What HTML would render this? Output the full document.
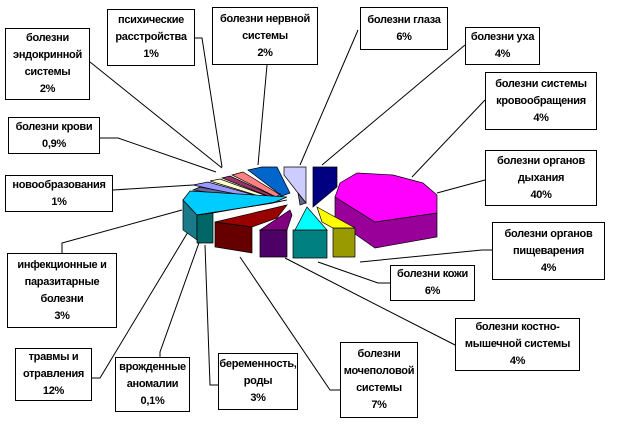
<!DOCTYPE html>
<html><head><meta charset="utf-8"><style>
body{margin:0;background:#fff;width:622px;height:425px;overflow:hidden;position:relative;font-family:"Liberation Sans","DejaVu Sans",sans-serif;}
.b{position:absolute;border:1px solid #000;background:#fff;font-size:11px;font-weight:bold;line-height:17px;text-align:center;box-sizing:border-box;display:flex;align-items:center;justify-content:center;letter-spacing:-0.3px;white-space:nowrap;}
svg{position:absolute;left:0;top:0}
</style></head><body>
<svg width="622" height="425" viewBox="0 0 622 425">
<g stroke="#000" stroke-width="1" fill="none">
<polyline points="90,62 222,168"/>
<polyline points="195,38 202,38 222,167"/>
<polyline points="267,65 258,165"/>
<polyline points="358,30 300,165"/>
<polyline points="465,45 322,165"/>
<polyline points="485,100 412,177"/>
<polyline points="485,180 437,193"/>
<polyline points="492,250 482,250 360,262"/>
<polyline points="390,283 378,283 318,262"/>
<polyline points="455,345 285,258"/>
<polyline points="340,390 330,390 240,257"/>
<polyline points="218,385 210,385 205,245"/>
<polyline points="160,357 160,352 200,240"/>
<polyline points="92,378 100,378 188,232"/>
<polyline points="62,253 62,243 182,210"/>
<polyline points="113,190 193,185"/>
<polyline points="100,138 118,138 216,172"/>
</g>
<g stroke="#000" stroke-width="0.7">
<polygon points="335,197 335,220 375,248 437,237 437,213 375,222" fill="#990099"/>
<polygon points="335,197 340,183 357,173 393,175 423,183 437,195 437,213 375,222" fill="#ff00ff"/>
<polygon points="313,167 337,167 337,187 313,207" fill="#000080"/>
<polygon points="284,167 306,167 306,203 298,193 284,175" fill="#ccccff"/>
<polygon points="298,193 306,203 300,205" fill="#666688"/>
<polygon points="248,170 262,167 277,167 290,193 282,196" fill="#0066cc"/>
<polygon points="232,175 243,172 282,196 278,198" fill="#ff8080"/>
<polygon points="222,178 230,176 278,198 275,199" fill="#993366"/>
<polygon points="210,181 220,179 275,199 272,200" fill="#ffffcc"/>
<polygon points="193,185 208,182 272,200 280,194 280,197 273,203" fill="#9999ff"/>
<polygon points="193,190 200,187 273,201 273,203" fill="#666699"/>
<polygon points="183,200 197,215 197,240 183,230" fill="#1a7a8a"/>
<polygon points="183,200 190,191 287,197 273,203 197,215" fill="#00ccff"/>
<polygon points="197,215 213,213 213,243 197,243" fill="#006666"/>
<polygon points="197,215 273,203 287,200 213,213" fill="#008080"/>
<polygon points="215,222 252,227 252,253 215,247" fill="#660000"/>
<polygon points="215,222 287,205 277,218 252,227" fill="#990000"/>
<polygon points="260,230 287,230 287,257 260,257" fill="#4d0066"/>
<polygon points="260,230 290,210 292,215 287,230" fill="#800080"/>
<polygon points="293,230 327,230 327,258 293,258" fill="#008080"/>
<polygon points="295,230 307,207 327,230" fill="#00ffff"/>
<polygon points="333,228 355,228 355,257 333,257" fill="#999900"/>
<polygon points="317,207 355,228 333,228 322,222" fill="#ffff00"/>
</g>
</svg>
<div class="b" style="left:5px;top:28px;width:85px;height:72px">болезни<br>эндокринной<br>системы<br>2%</div>
<div class="b" style="left:107px;top:9px;width:88px;height:57px">психические<br>расстройства<br>1%</div>
<div class="b" style="left:212px;top:7px;width:106px;height:58px">болезни нервной<br>системы<br>2%</div>
<div class="b" style="left:360px;top:7px;width:88px;height:43px">болезни глаза<br>6%</div>
<div class="b" style="left:465px;top:27px;width:75px;height:38px">болезни уха<br>4%</div>
<div class="b" style="left:485px;top:72px;width:112px;height:58px">болезни системы<br>кровообращения<br>4%</div>
<div class="b" style="left:8px;top:117px;width:92px;height:37px">болезни крови<br>0,9%</div>
<div class="b" style="left:5px;top:175px;width:108px;height:37px">новообразования<br>1%</div>
<div class="b" style="left:485px;top:150px;width:112px;height:56px">болезни органов<br>дыхания<br>40%</div>
<div class="b" style="left:492px;top:222px;width:113px;height:58px">болезни органов<br>пищеварения<br>4%</div>
<div class="b" style="left:390px;top:265px;width:85px;height:36px">болезни кожи<br>6%</div>
<div class="b" style="left:7px;top:253px;width:110px;height:75px">инфекционные и<br>паразитарные<br>болезни<br>3%</div>
<div class="b" style="left:455px;top:318px;width:125px;height:53px">болезни костно-<br>мышечной системы<br>4%</div>
<div class="b" style="left:15px;top:348px;width:77px;height:53px">травмы и<br>отравления<br>12%</div>
<div class="b" style="left:115px;top:357px;width:75px;height:55px">врожденные<br>аномалии<br>0,1%</div>
<div class="b" style="left:218px;top:353px;width:80px;height:57px">беременность,<br>роды<br>3%</div>
<div class="b" style="left:340px;top:342px;width:78px;height:76px">болезни<br>мочеполовой<br>системы<br>7%</div>
</body></html>
